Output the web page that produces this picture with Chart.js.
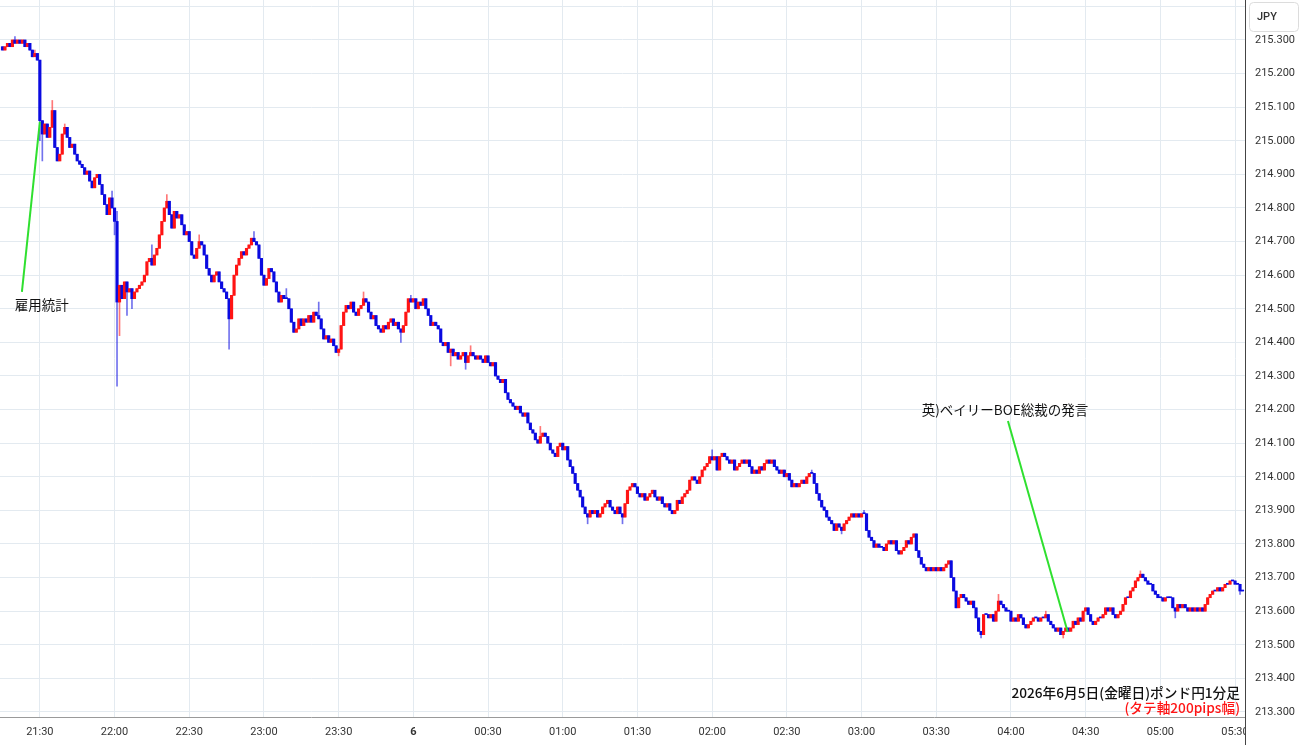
<!DOCTYPE html>
<html>
<head>
<meta charset="utf-8">
<script src="https://cdn.jsdelivr.net/npm/chart.js@4"></script>
<style>
  html, body { margin: 0; padding: 0; background: #fff; }
  canvas { display: block; }
</style>
</head>
<body>
<canvas id="chart" width="1300" height="745"></canvas>
<script>
// GBP/JPY 1-minute candles, 21:15 -> 05:33 (index = minutes since 21:15)
const firstOpen = 215.28;
const closes = [
  215.27, 215.28, 215.29, 215.28, 215.30, 215.29, 215.30, 215.29, 215.30, 215.28, 215.29, 215.27, 215.25, 215.26, 215.24,
  215.06, 215.02, 215.05, 215.01, 215.04, 215.09, 214.98, 214.94, 214.96, 215.02, 215.04, 215.01, 214.98, 214.99, 214.96,
  214.94, 214.93, 214.92, 214.90, 214.91, 214.88, 214.86, 214.89, 214.90, 214.87, 214.84, 214.81, 214.78, 214.83, 214.80,
  214.76, 214.52, 214.57, 214.53, 214.58, 214.55, 214.56, 214.53, 214.55, 214.56, 214.57, 214.58, 214.60, 214.64, 214.65,
  214.63, 214.66, 214.68, 214.72, 214.76, 214.80, 214.82, 214.78, 214.74, 214.79, 214.77, 214.78, 214.75, 214.72, 214.73,
  214.70, 214.66, 214.65, 214.68, 214.70, 214.69, 214.66, 214.62, 214.60, 214.58, 214.60, 214.61, 214.58, 214.56, 214.55,
  214.53, 214.47, 214.54, 214.60, 214.63, 214.65, 214.67, 214.66, 214.68, 214.69, 214.71, 214.70, 214.69, 214.65, 214.60,
  214.57, 214.59, 214.62, 214.61, 214.58, 214.55, 214.52, 214.54, 214.53, 214.53, 214.50, 214.46, 214.43, 214.44, 214.47,
  214.45, 214.47, 214.46, 214.48, 214.46, 214.49, 214.48, 214.47, 214.44, 214.41, 214.42, 214.40, 214.41, 214.39, 214.37,
  214.38, 214.45, 214.49, 214.51, 214.50, 214.52, 214.49, 214.48, 214.50, 214.51, 214.53, 214.52, 214.49, 214.47, 214.48,
  214.45, 214.44, 214.43, 214.45, 214.44, 214.46, 214.47, 214.45, 214.46, 214.44, 214.43, 214.45, 214.49, 214.53, 214.52,
  214.53, 214.50, 214.52, 214.51, 214.53, 214.50, 214.48, 214.45, 214.46, 214.45, 214.44, 214.40, 214.39, 214.40, 214.37,
  214.38, 214.36, 214.37, 214.35, 214.36, 214.37, 214.34, 214.36, 214.37, 214.36, 214.35, 214.36, 214.35, 214.34, 214.36,
  214.34, 214.33, 214.34, 214.30, 214.29, 214.28, 214.29, 214.25, 214.23, 214.22, 214.21, 214.20, 214.21, 214.19, 214.18,
  214.19, 214.16, 214.14, 214.13, 214.11, 214.10, 214.12, 214.13, 214.12, 214.10, 214.08, 214.07, 214.06, 214.09, 214.10,
  214.08, 214.09, 214.05, 214.03, 214.01, 213.98, 213.96, 213.94, 213.91, 213.89, 213.88, 213.90, 213.89, 213.90, 213.88,
  213.89, 213.91, 213.92, 213.93, 213.91, 213.90, 213.89, 213.91, 213.89, 213.88, 213.92, 213.96, 213.97, 213.98, 213.97,
  213.95, 213.94, 213.95, 213.93, 213.94, 213.95, 213.96, 213.94, 213.93, 213.94, 213.92, 213.91, 213.92, 213.90, 213.89,
  213.90, 213.93, 213.92, 213.94, 213.95, 213.96, 213.99, 214.00, 213.99, 213.98, 214.00, 214.02, 214.03, 214.04, 214.06,
  214.05, 214.06, 214.02, 214.06, 214.07, 214.06, 214.05, 214.04, 214.05, 214.02, 214.03, 214.04, 214.05, 214.04, 214.05,
  214.03, 214.01, 214.02, 214.01, 214.03, 214.02, 214.04, 214.05, 214.04, 214.05, 214.03, 214.02, 214.01, 214.02, 214.00,
  214.01, 213.99, 213.97, 213.98, 213.97, 213.98, 213.99, 213.98, 214.00, 214.01, 214.01, 213.98, 213.95, 213.93, 213.91,
  213.90, 213.88, 213.87, 213.86, 213.84, 213.86, 213.85, 213.84, 213.86, 213.87, 213.88, 213.89, 213.88, 213.89, 213.88,
  213.89, 213.89, 213.84, 213.82, 213.81, 213.79, 213.80, 213.79, 213.79, 213.78, 213.80, 213.81, 213.80, 213.81, 213.78,
  213.77, 213.78, 213.79, 213.81, 213.80, 213.82, 213.83, 213.78, 213.76, 213.74, 213.73, 213.72, 213.73, 213.72, 213.73,
  213.72, 213.73, 213.72, 213.73, 213.74, 213.75, 213.70, 213.66, 213.61, 213.64, 213.65, 213.64, 213.63, 213.62, 213.63,
  213.61, 213.58, 213.54, 213.53, 213.59, 213.59, 213.58, 213.59, 213.57, 213.60, 213.63, 213.62, 213.61, 213.60, 213.60,
  213.57, 213.58, 213.57, 213.59, 213.58, 213.56, 213.55, 213.56, 213.57, 213.58, 213.58, 213.57, 213.58, 213.58, 213.59,
  213.57, 213.56, 213.55, 213.54, 213.55, 213.53, 213.54, 213.55, 213.54, 213.55, 213.57, 213.56, 213.58, 213.57, 213.60,
  213.61, 213.59, 213.57, 213.56, 213.57, 213.58, 213.58, 213.59, 213.61, 213.60, 213.61, 213.59, 213.58, 213.59, 213.60,
  213.62, 213.64, 213.64, 213.66, 213.67, 213.69, 213.70, 213.71, 213.70, 213.69, 213.68, 213.68, 213.66, 213.65, 213.64,
  213.64, 213.63, 213.64, 213.64, 213.64, 213.61, 213.60, 213.62, 213.61, 213.62, 213.61, 213.60, 213.61, 213.60, 213.61,
  213.60, 213.61, 213.60, 213.62, 213.64, 213.65, 213.66, 213.66, 213.67, 213.66, 213.67, 213.68, 213.68, 213.69, 213.69,
  213.68, 213.68, 213.66, 213.66
];
// wick extremes that stick out past the bodies: [candle index, price]
const wickHighs = [
  [5, 215.31], [13, 215.27], [20, 215.12], [25, 215.05], [44, 214.85], [46, 214.79], [60, 214.69], [66, 214.84],
  [79, 214.72], [101, 214.73], [114, 214.56], [127, 214.52], [145, 214.55], [164, 214.54], [188, 214.39],
  [216, 214.15], [253, 213.98], [285, 214.08], [325, 214.02], [346, 213.90], [400, 213.65], [419, 213.60], [457, 213.72]
];
const wickLows = [
  [15, 215.00], [16, 214.94], [45, 214.72], [46, 214.27], [47, 214.42], [50, 214.48], [52, 214.50], [91, 214.38],
  [135, 214.36], [160, 214.40], [180, 214.33], [186, 214.32], [235, 213.86], [249, 213.86], [337, 213.83],
  [393, 213.52], [426, 213.52], [471, 213.58], [497, 213.65]
];

const xTickIdx = [15, 45, 75, 105, 135, 165, 195, 225, 255, 285, 315, 345, 375, 405, 435, 465, 495];
const xTickLabels = ['21:30', '22:00', '22:30', '23:00', '23:30', '6', '00:30', '01:00', '01:30',
  '02:00', '02:30', '03:00', '03:30', '04:00', '04:30', '05:00', '05:30'];
const yTicks = [213.3, 213.4, 213.5, 213.6, 213.7, 213.8, 213.9, 214.0, 214.1, 214.2, 214.3,
  214.4, 214.5, 214.6, 214.7, 214.8, 214.9, 215.0, 215.1, 215.2, 215.3, 215.4];

const notes = [
  { text: '雇用統計', at: [15.8, 214.511], from: [7.8, 214.55], tip: [15, 215.056] },
  { text: '英)ベイリーBOE総裁の発言', at: [402.6, 214.199], from: [403.8, 214.166], tip: [427.8, 213.538] }
];
const captionLines = ['2026年6月5日(金曜日)ポンド円1分足', '(タテ軸200pips幅)'];
const currency = 'JPY';

const opens = closes.map((c, i) => (i === 0 ? firstOpen : closes[i - 1]));
const highs = closes.map((c, i) => Math.max(c, opens[i]));
const lows = closes.map((c, i) => Math.min(c, opens[i]));
wickHighs.forEach(([i, v]) => { highs[i] = Math.max(highs[i], v); });
wickLows.forEach(([i, v]) => { lows[i] = Math.min(lows[i], v); });

const UP = '#ff1414';
const DOWN = '#0a0ae0';
const isUp = (i) => closes[i] > opens[i];
const gridColor = '#e3eaf0';
const FONT = "Roboto, 'Noto Sans CJK JP', sans-serif";
const JP_FONT = "'Noto Sans CJK JP', sans-serif";
Chart.defaults.font.family = FONT;

// Draws the axis extension, JPY badge, event notes and caption
const overlayPlugin = {
  id: 'overlay',
  afterDraw(chart) {
    const { ctx, chartArea: a } = chart;
    const { x, y } = chart.scales;
    ctx.save();

    ctx.fillStyle = '#fff';
    ctx.fillRect(a.right + 1, a.bottom + 1, chart.width - a.right, chart.height - a.bottom);
    ctx.strokeStyle = '#444';
    ctx.lineWidth = 1;
    ctx.beginPath();
    ctx.moveTo(a.right + 0.5, 0);
    ctx.lineTo(a.right + 0.5, chart.height);
    ctx.stroke();

    ctx.strokeStyle = '#dcdcdc';
    ctx.beginPath();
    ctx.roundRect(a.right + 4.5, 2.5, 49, 29, 4);
    ctx.stroke();
    ctx.fillStyle = '#333';
    ctx.font = '500 11px ' + FONT;
    ctx.textAlign = 'left';
    ctx.textBaseline = 'middle';
    ctx.fillText(currency, a.right + 12, 17);

    notes.forEach(n => {
      ctx.strokeStyle = '#2fe02f';
      ctx.lineWidth = 2;
      ctx.beginPath();
      ctx.moveTo(x.getPixelForValue(n.from[0]), y.getPixelForValue(n.from[1]));
      ctx.lineTo(x.getPixelForValue(n.tip[0]), y.getPixelForValue(n.tip[1]));
      ctx.stroke();
      ctx.fillStyle = '#111';
      ctx.font = '13.5px ' + JP_FONT;
      ctx.textAlign = 'center';
      ctx.textBaseline = 'middle';
      ctx.fillText(n.text, x.getPixelForValue(n.at[0]), y.getPixelForValue(n.at[1]));
    });

    ctx.font = '500 13.7px ' + JP_FONT;
    ctx.textAlign = 'right';
    ctx.textBaseline = 'middle';
    ctx.fillStyle = '#111';
    ctx.fillText(captionLines[0], a.right - 5, a.bottom - 24);
    ctx.fillStyle = UP;
    ctx.fillText(captionLines[1], a.right - 5, a.bottom - 9);
    ctx.restore();
  }
};

new Chart(document.getElementById('chart'), {
  type: 'bar',
  data: {
    datasets: [
      {
        label: 'body',
        data: closes.map((c, i) => ({ x: i, y: [opens[i], c] })),
        backgroundColor: (ctx) => (isUp(ctx.dataIndex) ? UP : DOWN),
        barThickness: 2.5,
        minBarLength: 1,
        grouped: false,
        borderWidth: 0
      },
      {
        label: 'wick',
        data: closes.map((c, i) => ({ x: i, y: [lows[i], highs[i]] })),
        backgroundColor: (ctx) => (isUp(ctx.dataIndex) ? 'rgba(255,30,30,0.6)' : 'rgba(20,20,225,0.6)'),
        barThickness: 1,
        grouped: false,
        borderWidth: 0
      }
    ]
  },
  options: {
    responsive: false,
    animation: false,
    layout: { padding: 0 },
    scales: {
      x: {
        type: 'linear',
        min: -1,
        max: 499,
        offset: false,
        afterBuildTicks: (s) => { s.ticks = xTickIdx.map(v => ({ value: v })); },
        afterFit: (s) => { s.height = 28; s.paddingLeft = 0; s.paddingRight = 0; },
        grid: { color: gridColor, drawTicks: false, offset: false },
        border: { color: '#9a9a9a' },
        ticks: {
          padding: 9,
          color: '#333',
          autoSkip: false,
          maxRotation: 0,
          callback: (v) => xTickLabels[xTickIdx.indexOf(v)],
          font: (ctx) => ({ size: 11, weight: ctx.tick && ctx.tick.label === '6' ? 'bold' : 'normal' })
        }
      },
      y: {
        position: 'right',
        min: 213.285,
        max: 215.419,
        afterBuildTicks: (s) => { s.ticks = yTicks.map(v => ({ value: v })); },
        afterFit: (s) => { s.width = 55; s.paddingTop = 0; s.paddingBottom = 0; },
        grid: { color: gridColor, drawTicks: false },
        border: { color: '#444' },
        ticks: {
          padding: 10,
          color: '#333',
          autoSkip: false,
          font: { size: 11 },
          callback: (v) => (v === 215.4 ? '' : v.toFixed(3))
        }
      }
    },
    plugins: {
      legend: { display: false },
      tooltip: { enabled: false }
    }
  },
  plugins: [overlayPlugin]
});
</script>
</body>
</html>
